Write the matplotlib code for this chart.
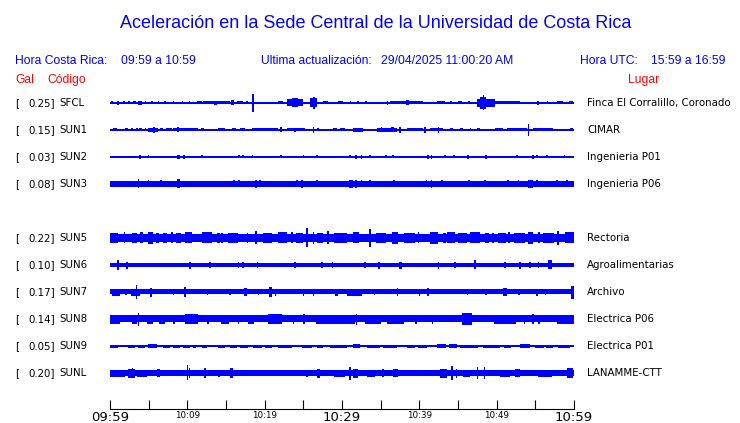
"""
Acceleration strip chart, Sede Central UCR.
Output: out.png
"""
import matplotlib
matplotlib.use("Agg")
import matplotlib.pyplot as plt
import matplotlib.transforms as mtransforms
import numpy as np

# ── Data ──────────────────────────────────────────────────────────────────────

TITLE = "Aceleración en la Sede Central de la Universidad de Costa Rica"
HORA_CR = "09:59 a 10:59"
HORA_UTC = "15:59 a 16:59"
ACTUALIZACION = "29/04/2025 11:00:20 AM"

# one slot per station; SUN4 has no data in this window
CODES = ["SFCL", "SUN1", "SUN2", "SUN3", "SUN4",
         "SUN5", "SUN6", "SUN7", "SUN8", "SUN9", "SUNL"]
GAL = [0.25, 0.15, 0.03, 0.08, None, 0.22, 0.10, 0.17, 0.14, 0.05, 0.20]
PLACES = ["Finca El Corralillo, Coronado", "CIMAR", "Ingenieria P01",
          "Ingenieria P06", "", "Rectoria", "Agroalimentarias", "Archivo",
          "Electrica P06", "Electrica P01", "LANAMME-CTT"]

# minutes after 09:59
TIME_TICKS = list(range(0, 61, 5))
TIME_LABELS = {0: "09:59", 10: "10:09", 20: "10:19", 30: "10:29",
               40: "10:39", 50: "10:49", 60: "10:59"}
BIG_LABELS = [0, 30, 60]

# background noise half-width of each trace (display px)
BASE = {"SFCL": 0.6, "SUN1": 0.6, "SUN2": 0.6, "SUN3": 2.7, "SUN5": 4.2,
        "SUN6": 2.4, "SUN7": 2.5, "SUN8": 3.5, "SUN9": 0.7, "SUNL": 2.5}

# bursts: (start minute, end minute, half amplitude px)
BURSTS = {
    "SFCL": [(0.1, 0.4, 1.5), (0.9, 1.2, 2), (1.7, 1.9, 1.5), (2.3, 2.6, 1.5),
             (3.0, 3.3, 1.5), (3.6, 4.1, 2), (4.5, 4.7, 1.5), (5.3, 5.5, 1.5),
             (6.2, 6.4, 1.5), (7.0, 7.2, 1.5), (8.1, 8.3, 1.5), (9.3, 9.5, 1.5),
             (10.2, 10.4, 1.5), (11.2, 11.9, 1.5), (12.0, 15.5, 1.5),
             (13.5, 13.9, 2), (15.7, 16.0, 2.5), (16.4, 17.2, 1.5),
             (17.6, 17.8, 1.5), (18.4, 18.6, 9), (21.7, 22.4, 1.5),
             (22.9, 25.0, 3.5), (23.5, 24.3, 4.5), (25.9, 26.8, 4.5),
             (26.2, 26.5, 6), (27.5, 28.2, 1.5), (29.5, 30.1, 1.5),
             (31.0, 31.2, 1.5), (32.0, 32.2, 1.5), (33.0, 33.2, 1.5),
             (35.8, 36.0, 2), (36.2, 40.5, 1.5), (38.3, 38.6, 2.5),
             (42.3, 43.3, 1.5), (44.0, 44.2, 1.5), (45.0, 45.5, 1.5),
             (46.3, 46.5, 1.5), (47.5, 49.8, 4), (47.9, 48.6, 6),
             (48.2, 48.4, 7.5), (49.8, 53.0, 1.5), (55.2, 55.5, 2),
             (56.5, 56.7, 1.5), (57.8, 58.6, 1.5), (59.4, 59.9, 1.5)],
    "SUN1": [(0.4, 0.9, 1.5), (2.0, 2.3, 1.5), (2.7, 3.0, 1.5), (3.4, 3.6, 1.5),
             (3.8, 4.1, 1.5), (4.5, 4.7, 1.5), (4.9, 6.2, 2), (5.5, 5.8, 3),
             (6.5, 6.8, 1.5), (7.2, 8.0, 1.5), (8.1, 11.4, 1.5), (8.6, 8.9, 2.5),
             (11.8, 12.2, 1.5), (14.0, 14.9, 1.5), (15.8, 16.3, 1.5),
             (16.8, 17.5, 1.5), (18.4, 21.7, 1.5), (22.0, 22.2, 2.5),
             (22.9, 25.2, 1.5), (23.8, 24.0, 2), (26.2, 26.4, 3),
             (26.8, 27.0, 1.5), (28.8, 29.4, 1.5), (29.7, 30.4, 1.5),
             (31.4, 32.7, 2), (34.5, 37.1, 2), (35.0, 35.2, 2.5),
             (36.4, 36.7, 2.5), (37.4, 37.6, 3), (38.4, 40.5, 1.5),
             (40.6, 40.8, 3), (41.4, 43.1, 1.5), (42.4, 42.6, 3),
             (44.0, 44.3, 1.5), (45.3, 45.6, 1.5), (46.5, 46.7, 1.5),
             (47.5, 47.8, 1.5), (49.8, 50.8, 1.5), (51.3, 53.9, 1.5),
             (54.0, 54.2, 6), (54.7, 57.3, 1.5), (59.5, 59.9, 1.5)],
    "SUN2": [(3.8, 4.0, 2), (4.9, 5.1, 1.5), (8.6, 9.1, 2), (9.5, 9.7, 2),
             (11.8, 12.0, 1.5), (16.6, 16.8, 1.5), (17.1, 17.3, 1.5),
             (18.3, 18.5, 1.5), (22.0, 22.2, 1.5), (24.9, 25.1, 1.5),
             (26.7, 26.9, 1.5), (30.9, 31.1, 1.5), (31.7, 31.9, 2),
             (32.4, 32.6, 2), (33.5, 33.7, 1.5), (35.6, 35.8, 1.5),
             (36.5, 36.7, 1.5), (41.0, 41.2, 2), (41.5, 41.7, 2),
             (43.2, 43.4, 1.5), (44.4, 44.6, 1.5), (46.2, 46.4, 2),
             (48.5, 48.7, 2), (52.5, 52.7, 1.5), (54.6, 54.8, 2),
             (55.1, 55.3, 1.5), (56.4, 56.6, 1.5), (58.7, 58.9, 1.5)],
    "SUN3": [(3.6, 3.8, 4.5), (4.9, 5.1, 3.5), (6.5, 6.7, 3.5), (8.6, 9.1, 4.5),
             (15.9, 16.1, 3.5), (16.6, 16.8, 3.5), (18.8, 19.0, 4),
             (19.3, 19.5, 3.5), (24.1, 24.3, 3.5), (24.7, 24.9, 4),
             (26.7, 26.9, 3.5), (30.9, 31.4, 4), (31.7, 31.9, 4),
             (32.4, 32.6, 3.5), (33.5, 33.7, 3.5), (36.6, 36.8, 3.5),
             (40.8, 41.0, 3.5), (41.5, 41.7, 4), (42.8, 43.0, 3.5),
             (46.3, 46.5, 3.5), (48.4, 48.6, 3.5), (51.4, 51.6, 3.5),
             (52.7, 52.9, 3.5), (54.0, 54.7, 4), (55.1, 55.3, 3.5),
             (57.7, 57.9, 3.5), (59.0, 59.2, 3.5)],
    "SUN5": [(0.0, 1.0, 5), (1.8, 2.0, 5.5), (2.9, 3.5, 5), (3.9, 4.3, 5.5),
             (4.9, 5.6, 6), (5.9, 6.3, 5), (6.8, 7.4, 5), (7.9, 8.1, 5.5),
             (8.5, 9.2, 5), (9.7, 10.6, 5.5), (11.9, 13.2, 5.5),
             (13.8, 14.2, 5), (14.4, 14.6, 5), (15.2, 16.5, 5),
             (17.7, 17.9, 5), (18.8, 19.0, 6.5), (19.8, 21.0, 5),
             (21.7, 22.9, 5.5), (23.4, 23.6, 5.5), (24.0, 25.0, 5),
             (25.4, 25.6, 9.5), (26.2, 26.4, 6), (26.8, 27.6, 5),
             (28.1, 28.3, 6.5), (29.0, 30.6, 5), (31.4, 32.2, 5.5),
             (33.5, 33.7, 9), (34.4, 35.7, 5), (36.5, 37.2, 6),
             (38.0, 39.5, 5), (39.8, 40.0, 5.5), (41.4, 42.4, 6),
             (43.0, 43.4, 5), (43.6, 44.6, 5.5), (45.0, 46.2, 5),
             (46.6, 47.9, 5.5), (48.5, 49.0, 5), (49.4, 49.6, 5),
             (50.2, 51.2, 5), (51.5, 51.7, 5.5), (52.2, 53.6, 5),
             (54.1, 54.7, 6), (55.4, 55.6, 5.5), (56.0, 57.4, 5),
             (57.8, 58.0, 7), (58.9, 60.0, 5.5)],
    "SUN6": [(0.9, 1.1, 5), (2.1, 2.3, 3.5), (10.2, 10.5, 3.5), (12.8, 13.0, 3),
             (16.5, 16.7, 3), (17.1, 17.3, 3), (19.0, 19.2, 3), (23.8, 24.0, 3),
             (27.3, 27.5, 3), (28.7, 28.9, 3), (32.9, 33.1, 3),
             (34.7, 34.9, 3.5), (37.4, 37.7, 3.5), (42.4, 42.6, 3.5),
             (44.5, 44.7, 3), (47.1, 47.3, 4.5), (51.0, 51.2, 3),
             (52.9, 53.1, 3.5), (54.2, 54.4, 3), (55.3, 55.5, 3),
             (56.7, 57.1, 4.5)],
    "SUN7": [(0.2, 1.3, 3.5), (2.0, 2.2, 3), (2.7, 3.9, 3.5), (3.3, 3.5, 7),
             (5.2, 5.4, 4.5), (8.1, 8.3, 3), (9.6, 9.8, 5), (12.5, 12.7, 3),
             (15.4, 15.6, 3), (17.3, 17.7, 4), (19.1, 19.3, 3), (20.6, 20.9, 5),
             (21.3, 21.5, 3.5), (24.9, 25.1, 3.5), (26.2, 26.4, 3.5),
             (29.1, 29.5, 3.5), (30.6, 32.6, 3.5), (34.1, 34.3, 3),
             (37.1, 37.3, 4), (39.9, 40.1, 3.5), (41.0, 41.2, 4),
             (46.1, 46.3, 3), (48.5, 48.7, 3), (50.8, 51.3, 4),
             (52.8, 53.0, 3), (55.1, 55.3, 3.5), (56.2, 56.4, 3),
             (59.6, 60.0, 6.5)],
    "SUN8": [(0.0, 1.3, 4.5), (2.8, 3.5, 4.5), (3.6, 3.8, 6.5), (4.8, 5.6, 4.5),
             (6.3, 7.1, 4.5), (8.2, 8.4, 4.5), (9.7, 11.4, 5), (12.6, 12.8, 4.5),
             (14.3, 15.4, 4.5), (16.5, 16.7, 4.5), (17.8, 18.6, 4.5),
             (20.4, 22.2, 5), (23.6, 23.8, 4.5), (25.0, 25.2, 5),
             (26.6, 31.7, 4.5), (31.8, 32.0, 5.5), (33.0, 35.0, 4.5),
             (35.8, 38.0, 4.5), (39.5, 39.7, 4.5), (41.6, 41.8, 4.5),
             (45.5, 46.8, 6), (49.6, 52.5, 4.5), (53.5, 53.7, 4.5),
             (54.6, 54.8, 5), (55.4, 55.6, 4.5), (57.8, 60.0, 4.5)],
    "SUN9": [(0.0, 1.0, 1.5), (2.3, 3.2, 1.5), (3.6, 4.5, 1.5), (4.9, 6.1, 2),
             (6.9, 7.8, 1.5), (8.1, 9.1, 1.5), (9.4, 10.3, 1.5),
             (10.7, 11.1, 1.5), (11.9, 12.5, 1.5), (14.0, 14.9, 1.5),
             (15.5, 16.4, 1.5), (16.8, 17.9, 1.5), (18.5, 19.7, 1.5),
             (20.1, 21.0, 1.5), (21.7, 23.5, 1.5), (24.8, 26.1, 1.5),
             (26.8, 27.6, 1.5), (28.4, 30.6, 1.5), (31.4, 32.3, 2),
             (33.2, 34.9, 1.5), (35.3, 37.1, 1.5), (38.4, 39.5, 1.5),
             (39.8, 41.0, 1.5), (42.3, 43.5, 2), (43.8, 44.9, 2),
             (45.3, 47.6, 1.5), (48.2, 50.4, 1.5), (51.0, 51.9, 1.5),
             (53.0, 54.3, 2), (55.0, 56.1, 1.5), (56.4, 57.3, 1.5),
             (57.9, 59.5, 1.5)],
    "SUNL": [(0.0, 1.9, 3.5), (2.3, 3.2, 4.5), (2.8, 3.0, 5), (3.5, 4.8, 3.5),
             (6.1, 6.5, 4), (9.9, 10.1, 7.5), (10.2, 10.4, 5), (12.2, 12.4, 5),
             (14.0, 14.2, 3.5), (15.5, 15.9, 5), (20.6, 20.8, 3),
             (25.4, 25.6, 3.5), (26.8, 27.2, 4.5), (29.0, 30.4, 3.5),
             (30.9, 31.1, 6.5), (31.4, 32.1, 4.5), (33.2, 34.3, 3.5),
             (35.2, 35.4, 4), (36.6, 37.2, 4), (41.0, 41.2, 3),
             (42.7, 43.6, 4.5), (44.1, 44.3, 7), (44.7, 44.9, 4.5),
             (45.7, 46.6, 3.5), (47.4, 47.6, 6), (48.3, 48.5, 6),
             (50.4, 51.7, 3.5), (52.4, 53.0, 4), (55.3, 57.1, 3.5),
             (59.1, 59.9, 5)],
}

# ── Layout (pixels of a 740x423 canvas) ──────────────────────────────────────

W, H, DPI = 740, 423, 100
BLUE, RED = "#0000ff", "#ff0000"
TRACE_LEFT, TRACE_RIGHT = 110, 574
TOP_PX, AXIS_PX = 90, 409
FIRST_ROW_PX, ROW_PX = 103, 27

plt.rcParams["font.family"] = ["DejaVu Sans"]
fig = plt.figure(figsize=(W / DPI, H / DPI), dpi=DPI)


def fx(px):
    return px / W


def fy(px):
    return 1 - px / H


ax = fig.add_axes([fx(TRACE_LEFT), fy(AXIS_PX),
                   (TRACE_RIGHT - TRACE_LEFT) / W, (AXIS_PX - TOP_PX) / H])
ax.set_xlim(0, 60)
ax.set_ylim((AXIS_PX - FIRST_ROW_PX) / ROW_PX, (TOP_PX - FIRST_ROW_PX) / ROW_PX)

# ── Traces ───────────────────────────────────────────────────────────────────

for row, code in enumerate(CODES):
    if GAL[row] is None:
        continue
    b = BASE[code] / ROW_PX
    ax.fill_between([0, 60], row - b, row + b, color=BLUE, linewidth=0,
                    antialiased=False)
    bursts = np.array(BURSTS[code])
    amp = bursts[:, 2] / ROW_PX
    ax.bar(bursts[:, 0], 2 * amp, width=bursts[:, 1] - bursts[:, 0],
           bottom=row - amp, align="edge", color=BLUE, linewidth=0,
           antialiased=False)

# ── Time axis ────────────────────────────────────────────────────────────────

for side in ("left", "right", "top"):
    ax.spines[side].set_visible(False)
ax.spines["bottom"].set_linewidth(0.8)
ax.set_yticks([])
ax.set_xticks(TIME_TICKS)
ax.set_xticklabels([TIME_LABELS.get(t, "") for t in TIME_TICKS])
ax.tick_params(axis="x", direction="in", length=6.5, width=0.8, pad=1.5,
               colors="black")
for t, lab in zip(TIME_TICKS, ax.get_xticklabels()):
    lab.set_fontsize(9.5 if t in BIG_LABELS else 6.3)

# ── Text ─────────────────────────────────────────────────────────────────────

sans = ["Liberation Sans", "DejaVu Sans"]
fig.text(fx(376), fy(23), TITLE, color=BLUE, fontsize=13, family=sans,
         ha="center", va="center")
for x, s in [(15, "Hora Costa Rica:"), (121, HORA_CR),
             (261, "Ultima actualización:"), (381, ACTUALIZACION),
             (580, "Hora UTC:"), (651, HORA_UTC)]:
    fig.text(fx(x), fy(61), s, color=BLUE, fontsize=8.7, family=sans,
             va="center")
for x, s in [(15, "Gal"), (47, "Código"), (628, "Lugar")]:
    fig.text(fx(x), fy(80), s, color=RED, fontsize=8.7, family=sans,
             va="center")

rows = mtransforms.blended_transform_factory(fig.transFigure, ax.transData)
for row, code in enumerate(CODES):
    if GAL[row] is None:
        continue
    kw = dict(transform=rows, fontsize=7.4, va="center", color="black")
    fig.text(fx(15), row, "[", **kw)
    fig.text(fx(55), row, f"{GAL[row]:.2f}]", ha="right", **kw)
    fig.text(fx(59), row, code, **kw)
    fig.text(fx(587), row, PLACES[row], **kw)

fig.savefig("out.png", dpi=DPI)
